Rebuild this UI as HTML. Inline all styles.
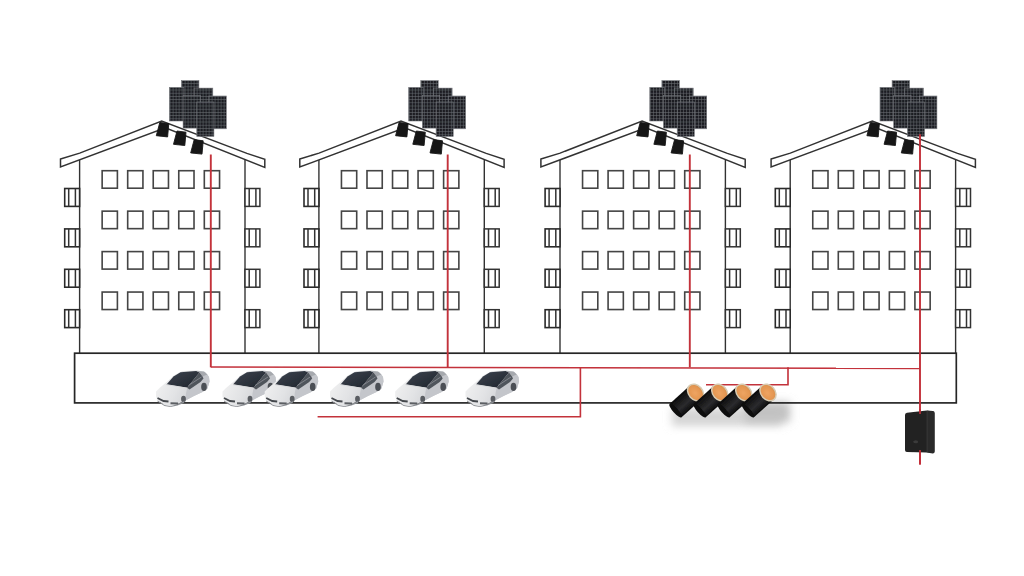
<!DOCTYPE html>
<html><head><meta charset="utf-8"><style>
html,body{margin:0;padding:0;background:#fff;width:1024px;height:576px;overflow:hidden;}
svg{display:block;}
</style></head><body>
<svg width="1024" height="576" viewBox="0 0 1024 576">
<defs>
<pattern id="cells" width="3" height="3.2" patternUnits="userSpaceOnUse">
<rect width="3" height="3.2" fill="#6c6f75"/>
<rect x="0.5" y="0.5" width="2.5" height="2.7" fill="#1c1e23"/>
</pattern>
<linearGradient id="carbody" x1="0" y1="0" x2="1" y2="0.3">
<stop offset="0" stop-color="#f4f4f4"/><stop offset="0.5" stop-color="#e2e3e5"/><stop offset="1" stop-color="#c7c9cd"/>
</linearGradient>
<linearGradient id="carglass" x1="0" y1="0" x2="1" y2="1">
<stop offset="0" stop-color="#3d4450"/><stop offset="1" stop-color="#1f242c"/>
</linearGradient>
<linearGradient id="battbody" x1="0" y1="0" x2="0" y2="1">
<stop offset="0" stop-color="#0b0b0b"/><stop offset="0.6" stop-color="#2b2b2e"/><stop offset="1" stop-color="#0b0b0b"/>
</linearGradient>
<radialGradient id="battcap" cx="0.45" cy="0.5" r="0.6">
<stop offset="0" stop-color="#eea462"/><stop offset="0.7" stop-color="#e39550"/><stop offset="1" stop-color="#c88a4c"/>
</radialGradient>
<linearGradient id="shadow" x1="0" y1="0" x2="0" y2="1">
<stop offset="0" stop-color="#bdbdbd"/><stop offset="1" stop-color="#fff" stop-opacity="0"/>
</linearGradient>
<filter id="blur4" x="-50%" y="-50%" width="200%" height="200%"><feGaussianBlur stdDeviation="4"/></filter>
<g id="bldg">
<path d="M-19.1,159 L0.1,153.1 L82.1,121 L167.3,153.4 L185.2,159.3 L185.2,167.4 L85.8,127.8 L-19.1,167 Z" fill="#fff" stroke="#333" stroke-width="1.5" stroke-linejoin="miter"/>
<line x1="0" y1="160" x2="0" y2="353" stroke="#333" stroke-width="1.4"/>
<line x1="165.4" y1="160" x2="165.4" y2="353" stroke="#333" stroke-width="1.4"/>
<rect x="22.55" y="170.70" width="15.25" height="17.5" fill="none" stroke="#444" stroke-width="1.6"/>
<rect x="48.09" y="170.70" width="15.25" height="17.5" fill="none" stroke="#444" stroke-width="1.6"/>
<rect x="73.63" y="170.70" width="15.25" height="17.5" fill="none" stroke="#444" stroke-width="1.6"/>
<rect x="99.17" y="170.70" width="15.25" height="17.5" fill="none" stroke="#444" stroke-width="1.6"/>
<rect x="124.71" y="170.70" width="15.25" height="17.5" fill="none" stroke="#444" stroke-width="1.6"/>
<rect x="22.55" y="211.15" width="15.25" height="17.5" fill="none" stroke="#444" stroke-width="1.6"/>
<rect x="48.09" y="211.15" width="15.25" height="17.5" fill="none" stroke="#444" stroke-width="1.6"/>
<rect x="73.63" y="211.15" width="15.25" height="17.5" fill="none" stroke="#444" stroke-width="1.6"/>
<rect x="99.17" y="211.15" width="15.25" height="17.5" fill="none" stroke="#444" stroke-width="1.6"/>
<rect x="124.71" y="211.15" width="15.25" height="17.5" fill="none" stroke="#444" stroke-width="1.6"/>
<rect x="22.55" y="251.60" width="15.25" height="17.5" fill="none" stroke="#444" stroke-width="1.6"/>
<rect x="48.09" y="251.60" width="15.25" height="17.5" fill="none" stroke="#444" stroke-width="1.6"/>
<rect x="73.63" y="251.60" width="15.25" height="17.5" fill="none" stroke="#444" stroke-width="1.6"/>
<rect x="99.17" y="251.60" width="15.25" height="17.5" fill="none" stroke="#444" stroke-width="1.6"/>
<rect x="124.71" y="251.60" width="15.25" height="17.5" fill="none" stroke="#444" stroke-width="1.6"/>
<rect x="22.55" y="292.05" width="15.25" height="17.5" fill="none" stroke="#444" stroke-width="1.6"/>
<rect x="48.09" y="292.05" width="15.25" height="17.5" fill="none" stroke="#444" stroke-width="1.6"/>
<rect x="73.63" y="292.05" width="15.25" height="17.5" fill="none" stroke="#444" stroke-width="1.6"/>
<rect x="99.17" y="292.05" width="15.25" height="17.5" fill="none" stroke="#444" stroke-width="1.6"/>
<rect x="124.71" y="292.05" width="15.25" height="17.5" fill="none" stroke="#444" stroke-width="1.6"/>
<rect x="-14.9" y="188.50" width="14.9" height="17.9" fill="#fff" stroke="#2a2a2a" stroke-width="1.6"/>
<line x1="-10.9" y1="188.50" x2="-10.9" y2="206.40" stroke="#333" stroke-width="1.5"/>
<line x1="-4.2" y1="188.50" x2="-4.2" y2="206.40" stroke="#333" stroke-width="1.5"/>
<rect x="165.4" y="188.50" width="14.9" height="17.9" fill="#fff" stroke="#333" stroke-width="1.5"/>
<line x1="169.6" y1="188.50" x2="169.6" y2="206.40" stroke="#333" stroke-width="1.5"/>
<line x1="176.3" y1="188.50" x2="176.3" y2="206.40" stroke="#333" stroke-width="1.5"/>
<rect x="-14.9" y="228.90" width="14.9" height="17.9" fill="#fff" stroke="#2a2a2a" stroke-width="1.6"/>
<line x1="-10.9" y1="228.90" x2="-10.9" y2="246.80" stroke="#333" stroke-width="1.5"/>
<line x1="-4.2" y1="228.90" x2="-4.2" y2="246.80" stroke="#333" stroke-width="1.5"/>
<rect x="165.4" y="228.90" width="14.9" height="17.9" fill="#fff" stroke="#333" stroke-width="1.5"/>
<line x1="169.6" y1="228.90" x2="169.6" y2="246.80" stroke="#333" stroke-width="1.5"/>
<line x1="176.3" y1="228.90" x2="176.3" y2="246.80" stroke="#333" stroke-width="1.5"/>
<rect x="-14.9" y="269.30" width="14.9" height="17.9" fill="#fff" stroke="#2a2a2a" stroke-width="1.6"/>
<line x1="-10.9" y1="269.30" x2="-10.9" y2="287.20" stroke="#333" stroke-width="1.5"/>
<line x1="-4.2" y1="269.30" x2="-4.2" y2="287.20" stroke="#333" stroke-width="1.5"/>
<rect x="165.4" y="269.30" width="14.9" height="17.9" fill="#fff" stroke="#333" stroke-width="1.5"/>
<line x1="169.6" y1="269.30" x2="169.6" y2="287.20" stroke="#333" stroke-width="1.5"/>
<line x1="176.3" y1="269.30" x2="176.3" y2="287.20" stroke="#333" stroke-width="1.5"/>
<rect x="-14.9" y="309.70" width="14.9" height="17.9" fill="#fff" stroke="#2a2a2a" stroke-width="1.6"/>
<line x1="-10.9" y1="309.70" x2="-10.9" y2="327.60" stroke="#333" stroke-width="1.5"/>
<line x1="-4.2" y1="309.70" x2="-4.2" y2="327.60" stroke="#333" stroke-width="1.5"/>
<rect x="165.4" y="309.70" width="14.9" height="17.9" fill="#fff" stroke="#333" stroke-width="1.5"/>
<line x1="169.6" y1="309.70" x2="169.6" y2="327.60" stroke="#333" stroke-width="1.5"/>
<line x1="176.3" y1="309.70" x2="176.3" y2="327.60" stroke="#333" stroke-width="1.5"/>
<rect x="101.9" y="80.6" width="17.4" height="37.4" fill="url(#cells)" stroke="#75777c" stroke-width="0.6"/>
<rect x="89.8" y="87.4" width="14.5" height="33.6" fill="url(#cells)" stroke="#75777c" stroke-width="0.6"/>
<rect x="114.5" y="88.1" width="18.7" height="33.9" fill="url(#cells)" stroke="#75777c" stroke-width="0.6"/>
<rect x="103.5" y="95.6" width="17.3" height="32.5" fill="url(#cells)" stroke="#75777c" stroke-width="0.6"/>
<rect x="129.3" y="96.0" width="17.4" height="32.8" fill="url(#cells)" stroke="#75777c" stroke-width="0.6"/>
<rect x="117.2" y="102.0" width="17.1" height="34.4" fill="url(#cells)" stroke="#75777c" stroke-width="0.6"/>
<polygon points="80.2,122.4 89.2,123.6 88.0,136.9 76.7,135.7" fill="#161616" stroke="#161616" stroke-width="0.9" stroke-linejoin="round"/>
<polygon points="97.4,131.0 106.4,132.2 105.2,145.5 93.9,144.3" fill="#161616" stroke="#161616" stroke-width="0.9" stroke-linejoin="round"/>
<polygon points="114.6,139.6 123.6,140.8 122.4,154.1 111.1,152.9" fill="#161616" stroke="#161616" stroke-width="0.9" stroke-linejoin="round"/>
</g>
<g id="car">
<path d="M0.5,22 L4,18.5 L10.5,13 L19,5.5 L27,1.6 L41.9,1.1 L49.5,2.5 L53.5,7.5 L54,12 L52,19 L47,22.5 L38.5,26.5 L30,31 L22,34.5 L15,36.8 L9,35.5 L2,31 L0.5,27 Z" fill="url(#carbody)"/>
<path d="M31.6,18.5 L47,7 L52,5 L53.5,7.5 L54,12 L52,19 L47,22.5 L38.5,26.5 L30,31 L30.5,24 Z" fill="#c4c6cb"/>
<path d="M11,15 L18,7 L25,2.8 L40.8,1.5 L44,3 L31.6,18.2 Z" fill="url(#carglass)"/>
<path d="M40.8,1.5 L48.5,2.1 L52,5 L47,7 L44,3 Z" fill="#a6a9ae"/>
<path d="M31.6,18.2 L44,3 L47,7 L48,9 L45,12.5 L34,20 Z" fill="#50545b"/>
<path d="M33,16 L46,7.5" fill="none" stroke="#8d9198" stroke-width="0.8"/>
<path d="M11,15.2 L31.6,18.6" fill="none" stroke="#d9dadc" stroke-width="1"/>
<ellipse cx="48.5" cy="17.4" rx="2.8" ry="4.2" fill="#4c4f55"/>
<ellipse cx="28" cy="29.5" rx="2.4" ry="3.2" fill="#5a5d62"/>
<path d="M2,31 L9,35.5 L15,36.8 L22,34.5 L29,31.5 L28.5,33.5 L22,36 L15,37.6 L9,36.5 L2,32 Z" fill="#8c8f94"/>
<path d="M2,28.5 L8,31.5 L13,32" fill="none" stroke="#45484d" stroke-width="1.8"/>
<path d="M15,33.8 L22.5,34" fill="none" stroke="#5c5f64" stroke-width="2"/>
</g>
<g id="batt">
<g transform="rotate(-42)">
<rect x="-27" y="-9" width="27" height="18" fill="url(#battbody)"/>
<ellipse cx="-27" cy="0" rx="2.5" ry="9" fill="#0c0c0c"/>
<ellipse cx="0" cy="0" rx="7" ry="9.2" fill="url(#battcap)" stroke="#d8ccb4" stroke-width="1.5"/>
</g>
</g>
<filter id="soft" x="0" y="0" width="1024" height="576" filterUnits="userSpaceOnUse"><feGaussianBlur stdDeviation="0.4"/></filter>
</defs>
<g filter="url(#soft)">
<use href="#bldg" transform="translate(79.6,0)"/>
<use href="#bldg" transform="translate(318.9,0)"/>
<use href="#bldg" transform="translate(560.0,0)"/>
<use href="#bldg" transform="translate(790.2,0)"/>
<rect x="672" y="408" width="110" height="18" fill="#d4d4d4" filter="url(#blur4)"/>
<rect x="745" y="402" width="45" height="20" fill="#c2c2c2" filter="url(#blur4)"/>
<rect x="74.6" y="353.2" width="881.7" height="49.7" fill="none" stroke="#262626" stroke-width="1.7"/>
<g stroke="#c3303a" stroke-width="1.6" fill="none">
<line x1="210.8" y1="154.5" x2="210.8" y2="367.3" stroke-width="1.9"/>
<line x1="447.7" y1="154.5" x2="447.7" y2="367.3" stroke-width="1.9"/>
<line x1="689.8" y1="154.5" x2="689.8" y2="367.3" stroke-width="1.9"/>
<line x1="920" y1="134.3" x2="920" y2="464.6" stroke-width="1.9"/>
<line x1="210.8" y1="367.0" x2="920" y2="368.4"/>
<polyline points="580.4,367.3 580.4,416.8 317.6,416.8"/>
<polyline points="788,367.3 788,384.8 706,384.8"/>
</g>
<use href="#car" transform="translate(155.5,369.5)"/>
<use href="#car" transform="translate(222,369.5)"/>
<use href="#car" transform="translate(264.2,369.5)"/>
<use href="#car" transform="translate(329.5,369.5)"/>
<use href="#car" transform="translate(394.7,369.5)"/>
<use href="#car" transform="translate(465,369.5)"/>
<use href="#batt" transform="translate(695.6,392.5)"/>
<use href="#batt" transform="translate(719.8,392.5)"/>
<use href="#batt" transform="translate(743.8,392.5)"/>
<use href="#batt" transform="translate(768,392.5)"/>
<path d="M907,412.8 Q905,413 905,415 L905,450 Q905,452 907,452 L927,452.5 L932.7,453.5 Q934.7,453.5 934.7,451.5 L934.7,413 Q934.7,411.2 932.7,411 L927,410.4 Z" fill="#222"/>
<path d="M927,410.8 L932.7,411.2 Q934.2,411.5 934.2,413 L934.2,451.5 Q934.2,453 932.7,453 L927,452.3 Z" fill="#2c2c2c"/><line x1="927" y1="411" x2="927" y2="452.3" stroke="#3a3a3a" stroke-width="0.8"/>
<ellipse cx="915.7" cy="441.7" rx="2.5" ry="1.5" fill="#3a3a3a"/>
<line x1="920" y1="409" x2="920" y2="414" stroke="#c3303a" stroke-width="1.6"/>
<line x1="920" y1="450" x2="920" y2="464.6" stroke="#c3303a" stroke-width="1.7"/>
</g>
</svg>
</body></html>
